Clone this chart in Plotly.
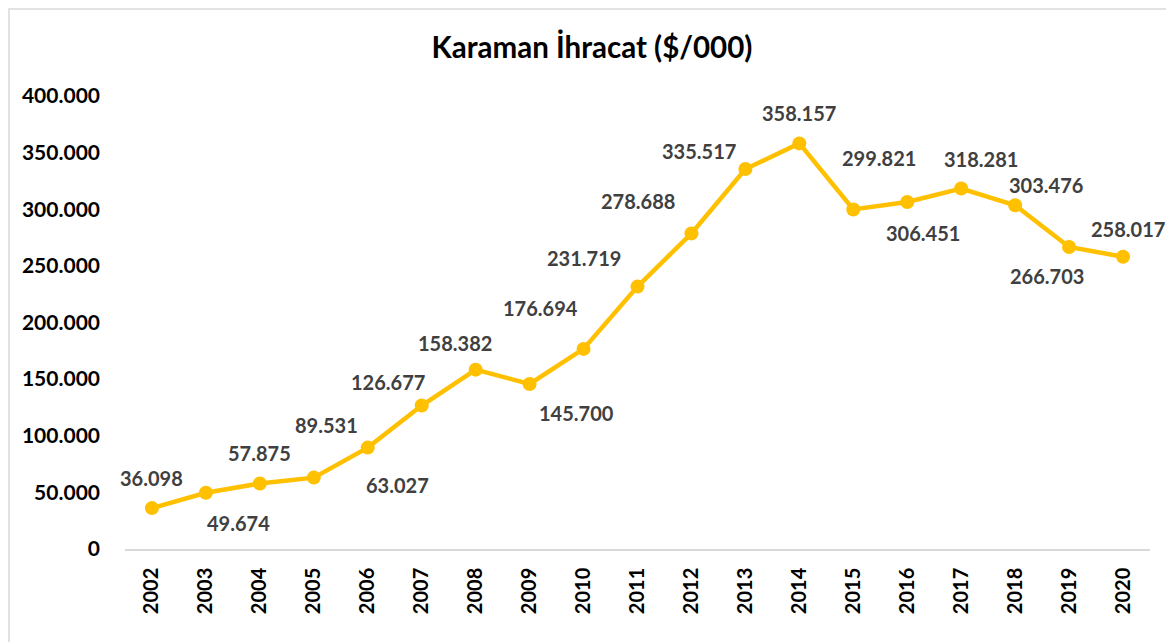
import plotly.graph_objects as go

years = [str(y) for y in range(2002, 2021)]
exports = [36098, 49674, 57875, 63027, 89531, 126677, 158382, 145700, 176694,
           231719, 278688, 335517, 358157, 299821, 306451, 318281, 303476, 266703, 258017]
label_texts = ["36.098", "49.674", "57.875", "89.531", "63.027", "126.677", "158.382",
               "145.700", "176.694", "231.719", "278.688", "335.517", "358.157",
               "299.821", "306.451", "318.281", "303.476", "266.703", "258.017"]
# label offsets in pixels (dx right, dy down) relative to each point
label_dx = [0, 33, 0, 13, 30, -34, -21, 47, -43, -54, -53, -46, 0, 26, 16, 20, 31, -22, 5]
label_dy = [-30, 30, -30, -53, 37, -24, -27, 29, -41, -29, -32, -18, -30, -51, 31, -30, -20, 29, -28]
y_ticks = [0, 50000, 100000, 150000, 200000, 250000, 300000, 350000, 400000]

FONT = "Lato"
GOLD = "#FFC000"
W, H = 1166, 634  # page body has an 8px margin
L, R, T, B = 117, 24, 88, 93

fig = go.Figure()
fig.add_trace(go.Scatter(
    x=years, y=exports, mode="lines+markers",
    line=dict(color=GOLD, width=4.5),
    marker=dict(color=GOLD, size=14),
    hoverinfo="x+y", showlegend=False,
))

for i, (y, t, dx, dy) in enumerate(zip(exports, label_texts, label_dx, label_dy)):
    fig.add_annotation(
        x=i, y=y, text=t, showarrow=False, xshift=dx, yshift=-dy,
        font=dict(family=FONT, size=20, color="#404040", weight="bold"),
        xanchor="center", yanchor="middle",
    )

pw, ph = W - L - R, H - T - B
fig.add_shape(type="rect", xref="paper", yref="paper",
              x0=(1 - L) / pw, x1=(W + 10 - L) / pw,
              y0=-(B + 10) / ph, y1=(H - 1 - B) / ph,
              line=dict(color="#d9d9d9", width=1.5), fillcolor="rgba(0,0,0,0)")

fig.update_layout(
    width=W, height=H,
    margin=dict(l=L, r=R, t=T, b=B),
    paper_bgcolor="white", plot_bgcolor="white",
    separators=",.",
    title=dict(text="Karaman İhracat ($/000)", x=584 / W, xref="container", xanchor="center",
               y=1 - 40 / H, yref="container", yanchor="middle",
               font=dict(family=FONT, size=29.5, color="black", weight="bold")),
    font=dict(family=FONT),
)
fig.update_xaxes(
    type="category", range=[-0.5, len(years) - 0.5], autorange=False,
    showgrid=False, showline=True, linecolor="#d9d9d9", linewidth=1.5,
    ticks="", tickangle=-90, ticklabelstandoff=9,
    tickfont=dict(family=FONT, size=20, color="black", weight="bold"),
    zeroline=False,
)
fig.update_yaxes(
    range=[0, 400000], autorange=False, tickvals=y_ticks, tickformat=",d", showgrid=False,
    showline=False, zeroline=False, ticks="", ticklabelstandoff=24,
    tickfont=dict(family=FONT, size=21, color="black", weight="bold"),
)

fig.write_html("out.html")
